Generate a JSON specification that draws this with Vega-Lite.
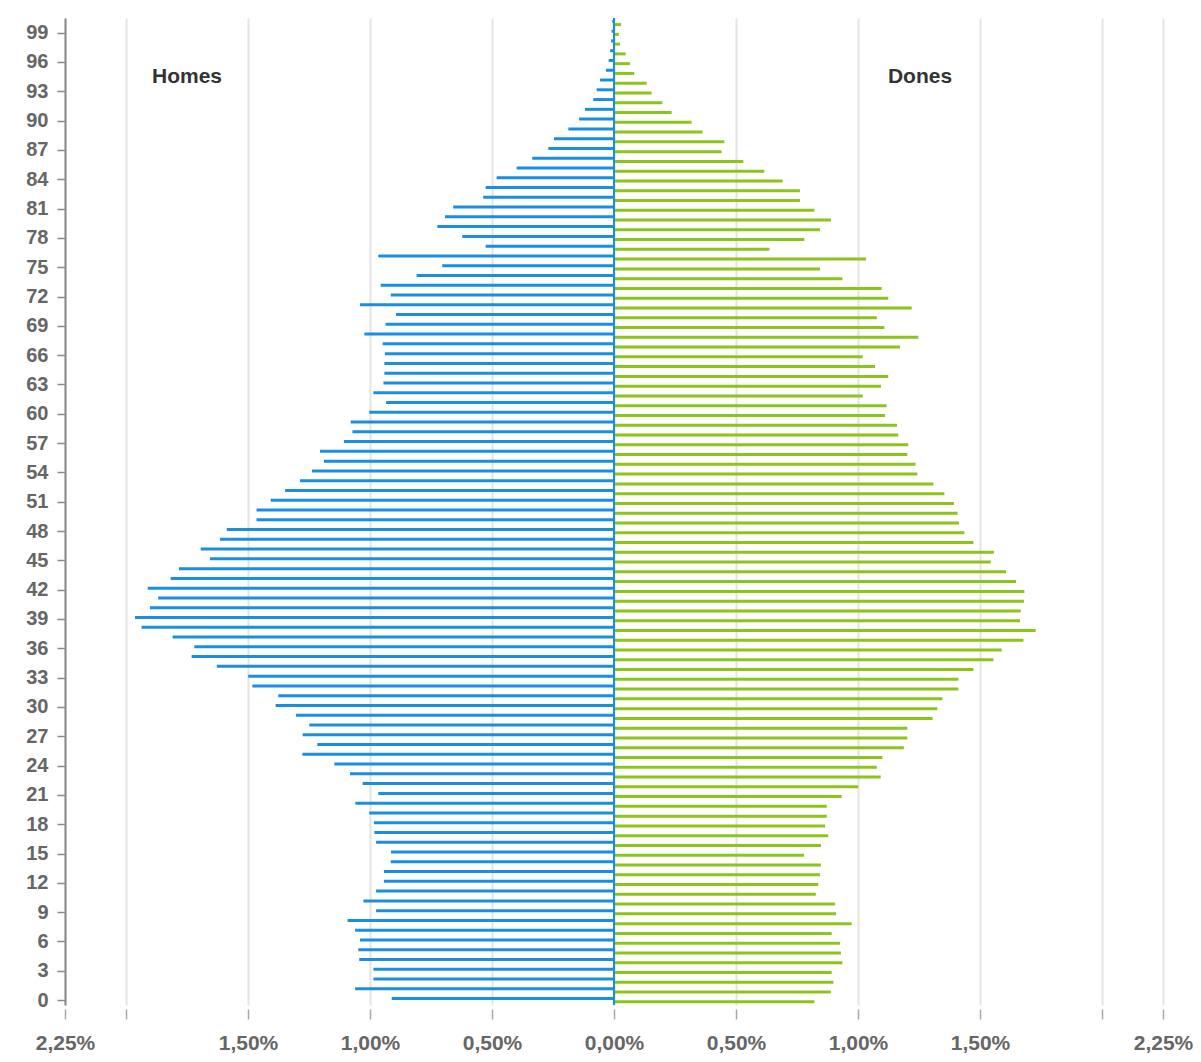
{
  "$schema": "https://vega.github.io/schema/vega-lite/v6.json",
  "width": 1098,
  "height": 987,
  "autosize": {"type": "none"},
  "padding": {"left": 65, "top": 18, "right": 38, "bottom": 57},
  "background": "white",
  "config": {"view": {"stroke": null}},
  "datasets": {
    "homes": [
      {"age":100,"pct":-0.007},{"age":99,"pct":-0.01},{"age":98,"pct":-0.012},{"age":97,"pct":-0.016},{"age":96,"pct":-0.022},
      {"age":95,"pct":-0.033},{"age":94,"pct":-0.057},{"age":93,"pct":-0.071},{"age":92,"pct":-0.085},{"age":91,"pct":-0.119},
      {"age":90,"pct":-0.143},{"age":89,"pct":-0.187},{"age":88,"pct":-0.246},{"age":87,"pct":-0.269},{"age":86,"pct":-0.335},
      {"age":85,"pct":-0.399},{"age":84,"pct":-0.481},{"age":83,"pct":-0.526},{"age":82,"pct":-0.536},{"age":81,"pct":-0.659},
      {"age":80,"pct":-0.693},{"age":79,"pct":-0.724},{"age":78,"pct":-0.622},{"age":77,"pct":-0.526},{"age":76,"pct":-0.966},
      {"age":75,"pct":-0.704},{"age":74,"pct":-0.809},{"age":73,"pct":-0.956},{"age":72,"pct":-0.915},{"age":71,"pct":-1.041},
      {"age":70,"pct":-0.893},{"age":69,"pct":-0.936},{"age":68,"pct":-1.023},{"age":67,"pct":-0.948},{"age":66,"pct":-0.939},
      {"age":65,"pct":-0.941},{"age":64,"pct":-0.941},{"age":63,"pct":-0.945},{"age":62,"pct":-0.986},{"age":61,"pct":-0.934},
      {"age":60,"pct":-1.003},{"age":59,"pct":-1.079},{"age":58,"pct":-1.072},{"age":57,"pct":-1.107},{"age":56,"pct":-1.205},
      {"age":55,"pct":-1.189},{"age":54,"pct":-1.238},{"age":53,"pct":-1.287},{"age":52,"pct":-1.348},{"age":51,"pct":-1.407},
      {"age":50,"pct":-1.465},{"age":49,"pct":-1.465},{"age":48,"pct":-1.587},{"age":47,"pct":-1.615},{"age":46,"pct":-1.694},
      {"age":45,"pct":-1.656},{"age":44,"pct":-1.783},{"age":43,"pct":-1.817},{"age":42,"pct":-1.911},{"age":41,"pct":-1.868},
      {"age":40,"pct":-1.902},{"age":39,"pct":-1.963},{"age":38,"pct":-1.936},{"age":37,"pct":-1.809},{"age":36,"pct":-1.72},
      {"age":35,"pct":-1.731},{"age":34,"pct":-1.628},{"age":33,"pct":-1.499},{"age":32,"pct":-1.482},{"age":31,"pct":-1.376},
      {"age":30,"pct":-1.387},{"age":29,"pct":-1.303},{"age":28,"pct":-1.249},{"age":27,"pct":-1.276},{"age":26,"pct":-1.216},
      {"age":25,"pct":-1.277},{"age":24,"pct":-1.146},{"age":23,"pct":-1.082},{"age":22,"pct":-1.03},{"age":21,"pct":-0.966},
      {"age":20,"pct":-1.06},{"age":19,"pct":-1.003},{"age":18,"pct":-0.984},{"age":17,"pct":-0.982},{"age":16,"pct":-0.975},
      {"age":15,"pct":-0.914},{"age":14,"pct":-0.915},{"age":13,"pct":-0.943},{"age":12,"pct":-0.943},{"age":11,"pct":-0.975},
      {"age":10,"pct":-1.027},{"age":9,"pct":-0.975},{"age":8,"pct":-1.092},{"age":7,"pct":-1.061},{"age":6,"pct":-1.041},
      {"age":5,"pct":-1.048},{"age":4,"pct":-1.044},{"age":3,"pct":-0.986},{"age":2,"pct":-0.986},{"age":1,"pct":-1.061},
      {"age":0,"pct":-0.911}
    ],
    "dones": [
      {"age":100,"pct":0.029},{"age":99,"pct":0.02},{"age":98,"pct":0.025},{"age":97,"pct":0.048},{"age":96,"pct":0.066},
      {"age":95,"pct":0.083},{"age":94,"pct":0.134},{"age":93,"pct":0.154},{"age":92,"pct":0.198},{"age":91,"pct":0.236},
      {"age":90,"pct":0.318},{"age":89,"pct":0.363},{"age":88,"pct":0.452},{"age":87,"pct":0.441},{"age":86,"pct":0.53},
      {"age":85,"pct":0.616},{"age":84,"pct":0.691},{"age":83,"pct":0.762},{"age":82,"pct":0.762},{"age":81,"pct":0.821},
      {"age":80,"pct":0.889},{"age":79,"pct":0.844},{"age":78,"pct":0.78},{"age":77,"pct":0.637},{"age":76,"pct":1.033},
      {"age":75,"pct":0.844},{"age":74,"pct":0.936},{"age":73,"pct":1.097},{"age":72,"pct":1.124},{"age":71,"pct":1.22},
      {"age":70,"pct":1.077},{"age":69,"pct":1.108},{"age":68,"pct":1.247},{"age":67,"pct":1.172},{"age":66,"pct":1.019},
      {"age":65,"pct":1.07},{"age":64,"pct":1.124},{"age":63,"pct":1.094},{"age":62,"pct":1.019},{"age":61,"pct":1.117},
      {"age":60,"pct":1.111},{"age":59,"pct":1.16},{"age":58,"pct":1.165},{"age":57,"pct":1.206},{"age":56,"pct":1.202},
      {"age":55,"pct":1.236},{"age":54,"pct":1.243},{"age":53,"pct":1.309},{"age":52,"pct":1.354},{"age":51,"pct":1.393},
      {"age":50,"pct":1.408},{"age":49,"pct":1.414},{"age":48,"pct":1.436},{"age":47,"pct":1.473},{"age":46,"pct":1.557},
      {"age":45,"pct":1.544},{"age":44,"pct":1.607},{"age":43,"pct":1.648},{"age":42,"pct":1.682},{"age":41,"pct":1.68},
      {"age":40,"pct":1.667},{"age":39,"pct":1.664},{"age":38,"pct":1.728},{"age":37,"pct":1.678},{"age":36,"pct":1.589},
      {"age":35,"pct":1.555},{"age":34,"pct":1.473},{"age":33,"pct":1.411},{"age":32,"pct":1.411},{"age":31,"pct":1.346},
      {"age":30,"pct":1.325},{"age":29,"pct":1.306},{"age":28,"pct":1.202},{"age":27,"pct":1.202},{"age":26,"pct":1.188},
      {"age":25,"pct":1.1},{"age":24,"pct":1.077},{"age":23,"pct":1.093},{"age":22,"pct":1.001},{"age":21,"pct":0.933},
      {"age":20,"pct":0.872},{"age":19,"pct":0.872},{"age":18,"pct":0.865},{"age":17,"pct":0.878},{"age":16,"pct":0.848},
      {"age":15,"pct":0.779},{"age":14,"pct":0.848},{"age":13,"pct":0.844},{"age":12,"pct":0.837},{"age":11,"pct":0.827},
      {"age":10,"pct":0.906},{"age":9,"pct":0.91},{"age":8,"pct":0.974},{"age":7,"pct":0.892},{"age":6,"pct":0.926},
      {"age":5,"pct":0.93},{"age":4,"pct":0.936},{"age":3,"pct":0.892},{"age":2,"pct":0.899},{"age":1,"pct":0.889},
      {"age":0,"pct":0.821}
    ],
    "labels": [
      {"label": "Homes"}
    ],
    "labels2": [
      {"label": "Dones"}
    ]
  },
  "layer": [
    {
      "data": {"name": "homes"},
      "mark": {"type": "rule", "color": "#1a8ee0", "strokeWidth": 3, "yOffset": -1.5, "strokeCap": "butt"},
      "encoding": {
        "x": {
          "field": "pct", "type": "quantitative",
          "scale": {"domain": [-2.25, 2.25], "nice": false, "zero": false},
          "axis": {
            "title": null,
            "values": [-2.25, -2, -1.5, -1, -0.5, 0, 0.5, 1, 1.5, 2, 2.25],
            "tickCount": 100,
            "labelExpr": "abs(datum.value) == 2 ? '' : replace(format(abs(datum.value), '.2f'), '.', ',') + '%'",
            "grid": true, "gridColor": "#e4e4e4", "gridWidth": 2,
            "domain": false,
            "ticks": true, "tickColor": "#a8a8a8", "tickSize": 10, "tickWidth": 1.5,
            "offset": 4, "labelPadding": 13,
            "labelFont": "Liberation Sans", "labelFontWeight": "bold", "labelFontSize": 21, "labelColor": "#666666",
            "labelOverlap": false, "labelFlush": false
          }
        },
        "x2": {"datum": 0},
        "y": {
          "field": "age", "type": "quantitative",
          "scale": {"domain": [-0.5, 100.5], "nice": false, "zero": false},
          "axis": {
            "title": null,
            "values": [0,3,6,9,12,15,18,21,24,27,30,33,36,39,42,45,48,51,54,57,60,63,66,69,72,75,78,81,84,87,90,93,96,99],
            "tickCount": 200,
            "format": "d",
            "grid": false,
            "domain": true, "domainColor": "#8a8a8a", "domainWidth": 2,
            "ticks": true, "tickColor": "#8a8a8a", "tickSize": 8, "tickWidth": 1.5,
            "labelPadding": 9, "labelOverlap": false,
            "labelFont": "Liberation Sans", "labelFontWeight": "bold", "labelFontSize": 20, "labelColor": "#666666"
          }
        }
      }
    },
    {
      "data": {"name": "dones"},
      "mark": {"type": "rule", "color": "#8cc41a", "strokeWidth": 3, "yOffset": 1.7, "strokeCap": "butt"},
      "encoding": {
        "x": {"field": "pct", "type": "quantitative"},
        "x2": {"datum": 0},
        "y": {"field": "age", "type": "quantitative"}
      }
    },
    {
      "data": {"name": "labels"},
      "mark": {"type": "rule", "color": "#1a8ee0", "strokeWidth": 2},
      "encoding": {"x": {"datum": 0, "type": "quantitative"}}
    },
    {
      "data": {"name": "labels"},
      "mark": {"type": "text", "font": "Liberation Sans", "fontWeight": "bold", "fontSize": 21, "color": "#333333", "align": "center", "baseline": "middle"},
      "encoding": {
        "x": {"datum": -1.75, "type": "quantitative"},
        "y": {"datum": 94.5, "type": "quantitative"},
        "text": {"field": "label"}
      }
    },
    {
      "data": {"name": "labels2"},
      "mark": {"type": "text", "font": "Liberation Sans", "fontWeight": "bold", "fontSize": 21, "color": "#333333", "align": "center", "baseline": "middle"},
      "encoding": {
        "x": {"datum": 1.254, "type": "quantitative"},
        "y": {"datum": 94.5, "type": "quantitative"},
        "text": {"field": "label"}
      }
    }
  ]
}
